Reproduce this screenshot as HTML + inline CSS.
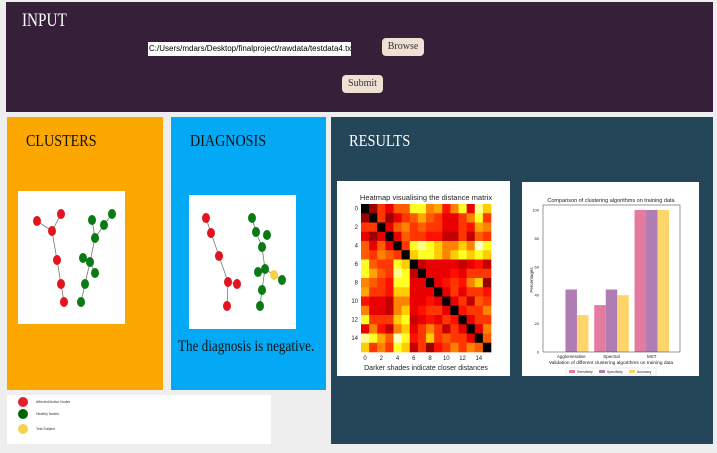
<!DOCTYPE html>
<html><head><meta charset="utf-8"><style>
body{margin:0;width:717px;height:453px;background:#eeeeee;position:relative;overflow:hidden;font-family:"Liberation Serif",serif}
.abs{position:absolute}
.title{color:#fff;font-size:17px;font-family:"Liberation Serif",serif;transform-origin:0 0;white-space:nowrap}
.btn{background:#efe0d4;border-radius:4px;font-size:10px;color:#333;text-align:center;font-family:"Liberation Serif",serif}
</style></head><body>
<div class="abs" style="left:6px;top:2px;width:707px;height:110px;background:#361f38"></div>
<div class="abs title" style="left:22px;top:10px;font-size:19px;transform:scaleX(0.8)">INPUT</div>
<div class="abs" style="left:148px;top:42px;width:202px;height:14px;background:#fff;font:8px 'Liberation Sans',sans-serif;line-height:14px;color:#000;padding-left:1px;white-space:nowrap;overflow:hidden">C:/Users/mdars/Desktop/finalproject/rawdata/testdata4.txt</div>
<div class="abs btn" style="left:382px;top:38px;width:42px;height:18px;line-height:18px">Browse</div>
<div class="abs btn" style="left:342px;top:75px;width:41px;height:18px;line-height:18px">Submit</div>

<div class="abs" style="left:7px;top:117px;width:156px;height:273px;background:#fca800"></div>
<div class="abs title" style="left:26px;top:131px;color:#111;transform:scaleX(0.83)">CLUSTERS</div>
<div class="abs" style="left:171px;top:117px;width:155px;height:273px;background:#03a9f4"></div>
<div class="abs title" style="left:190px;top:131px;color:#111;transform:scaleX(0.83)">DIAGNOSIS</div>
<div class="abs title" style="left:178px;top:338px;font-size:16px;color:#111;transform:scaleX(0.82)">The diagnosis is negative.</div>
<div class="abs" style="left:331px;top:117px;width:382px;height:327px;background:#254558"></div>
<div class="abs title" style="left:349px;top:131px;transform:scaleX(0.85)">RESULTS</div>
<div class="abs" style="left:7px;top:395px;width:264px;height:49px;background:#fff"></div>

<svg class="abs" style="left:0;top:0" width="717" height="453" id="svg">
<rect x="18" y="191" width="107" height="133" fill="#fff"/>
<rect x="189" y="195" width="107" height="134" fill="#fff"/>
<rect x="337" y="181" width="173" height="195" fill="#fff"/>
<rect x="522" y="182" width="177" height="194" fill="#fff"/>
<g id="graphs"></g>
<g id="heat"></g>
<g id="bars"></g>
<g font-family="Liberation Sans,sans-serif" font-size="3.5" fill="#333">
<circle cx="23" cy="402" r="5" fill="#e0202a"/><text x="36" y="403">Affected/Active Nodes</text>
<circle cx="23" cy="414" r="5" fill="#006400"/><text x="36" y="415">Healthy Nodes</text>
<circle cx="23" cy="429" r="5" fill="#f8d04a"/><text x="36" y="430">Test Subject</text>
</g>
</svg>
<script>
const NS='http://www.w3.org/2000/svg';
function mk(p,t,a){const e=document.createElementNS(NS,t);for(const k in a)e.setAttribute(k,a[k]);p.appendChild(e);return e;}
const g=document.getElementById('graphs');
const clusterRed=[[37,221],[61,214],[52,231],[57,260],[61,284],[64,302]];
const clusterRedEdges=[[0,2],[1,2],[2,3],[3,4],[4,5]];
const clusterGreen=[[92,220],[112,214],[104,225],[95,238],[83,258],[90,262],[95,273],[85,284],[81,302]];
const clusterGreenEdges=[[1,2],[2,3],[0,3],[3,5],[4,5],[5,6],[5,7],[7,8]];
const diagRed=[[206,218],[211,233],[219,256],[228,282],[237,284],[227,306]];
const diagRedEdges=[[0,1],[1,2],[2,3],[3,4],[3,5]];
const diagGreen=[[252,218],[256,232],[267,235],[262,247],[258,272],[265,269],[282,280],[262,290],[260,306],[274,275]];
const diagGreenEdges=[[0,1],[1,3],[3,5],[4,5],[5,9],[9,6],[5,7],[7,8]];
function graph(nodes,edges,col,name,special){
  edges.forEach(e=>{const l=mk(g,'line',{x1:nodes[e[0]][0],y1:nodes[e[0]][1],x2:nodes[e[1]][0],y2:nodes[e[1]][1],stroke:'#777','stroke-width':0.8});
  
  });
  nodes.forEach((n,i)=>{const c=mk(g,'ellipse',{cx:n[0],cy:n[1],rx:4,ry:5,fill:(special===i?'#f8d04a':col)});
  
  });
}
graph(clusterRed,clusterRedEdges,'#e3141e','cluster-red');
graph(clusterGreen,clusterGreenEdges,'#0a7a12','cluster-green');
graph(diagRed,diagRedEdges,'#e3141e','diag-red');
graph(diagGreen,diagGreenEdges,'#0a7a12','diag-green',9);

const heatUpper=[
[0,2,4,3,4.5,4.5,7,7,5,5.5,3.5,5,7,3,8,6],
[0,4,2,3,4,4.5,5.5,4.5,4,3,3,4,5,7,4],
[0,3,4.5,5,4,4.5,4,4,3,3,4,3.5,5.5,5],
[0,3,4.5,4,4,3.5,3.5,2.5,2.5,4,2.5,4.5,4],
[0,4,7,8,7,6,5,5,6,5,8.5,7],
[0,6,7,7,6,5,6,7,6,7,6],
[0,2.5,3,3,3,3,2.5,3,3.5,2.5],
[0,3,3,3,3.5,3,4,4,4],
[0,3,3.5,4,3.5,5,6,2],
[0,3,4,3,4,4,3.5],
[0,3,4,2.5,4.5,4],
[0,3.5,4,4,5],
[0,3,4,4],
[0,3,5],
[0,4.5],
[0]];
const heatTicks=['0','2','4','6','8','10','12','14'];
const N=16;
const M=[];for(let i=0;i<N;i++){M.push([]);for(let j=0;j<N;j++)M[i].push(0);}
for(let i=0;i<N;i++)for(let k=0;k<heatUpper[i].length;k++){const j=i+k;M[i][j]=heatUpper[i][k];M[j][i]=heatUpper[i][k];}
const hx0=361,hy0=204,hw=130,hh=148,cw=hw/N,ch=hh/N;
function hot(v){const t=v/9;const cl=x=>Math.max(0,Math.min(1,x));
return `rgb(${Math.round(255*cl(t/0.365))},${Math.round(255*cl((t-0.365)/0.375))},${Math.round(255*cl((t-0.74)/0.26))})`;}
const H=document.getElementById('heat');
for(let i=0;i<N;i++)for(let j=0;j<N;j++){const r=mk(H,'rect',{x:hx0+j*cw,y:hy0+i*ch,width:cw+0.3,height:ch+0.3,fill:hot(M[i][j])});

}
heatTicks.forEach(t=>{const v=+t;
const a=mk(H,'text',{x:hx0+(v+0.5)*cw,y:hy0+hh+8,'font-size':6,'text-anchor':'middle','font-family':'Liberation Sans,sans-serif',fill:'#222'});a.textContent=t;


const b=mk(H,'text',{x:hx0-3,y:hy0+(v+0.5)*ch+2,'font-size':6,'text-anchor':'end','font-family':'Liberation Sans,sans-serif',fill:'#222'});b.textContent=t;

});
let ht=mk(H,'text',{x:hx0+hw/2,y:200,'font-size':7.5,'text-anchor':'middle','font-family':'Liberation Sans,sans-serif',fill:'#222'});ht.textContent='Heatmap visualising the distance matrix';


let hl=mk(H,'text',{x:hx0+hw/2,y:370,'font-size':7,'text-anchor':'middle','font-family':'Liberation Sans,sans-serif',fill:'#222'});hl.textContent='Darker shades indicate closer distances';



const barCategories=['Agglomerative','Spectral','MST'];
const sensitivity=[0,33,100];
const specificity=[44,44,100];
const accuracy=[26,40,100];
const yTicks=[0,20,40,60,80,100];
const seriesNames=['Sensitivity','Specificity','Accuracy'];
const seriesColors=['#e47aa0','#b07cb4','#fdd56a'];
const ax0=543,ax1=680,ay0=352,ayTop=205,ymax=103.5;
const ys=v=>ay0-(v/ymax)*(ay0-ayTop);
const gw=(ax1-ax0)/3.4,bw=11.5;
const cx=i=>ax0+gw*0.7+i*gw;
const B=document.getElementById('bars');
[sensitivity,specificity,accuracy].forEach((s,k)=>s.forEach((v,i)=>{
 const r=mk(B,'rect',{x:cx(i)+(k-1.5)*bw,y:ys(v),width:bw,height:ay0-ys(v),fill:seriesColors[k]});
 
 }));
mk(B,'rect',{x:ax0,y:ayTop,width:ax1-ax0,height:ay0-ayTop,fill:'none',stroke:'#333','stroke-width':0.5});
yTicks.forEach(t=>{const a=mk(B,'text',{x:ax0-4,y:ys(t)+1.5,'font-size':4,'text-anchor':'end','font-family':'Liberation Sans,sans-serif',fill:'#222'});a.textContent=t;

});
barCategories.forEach((c,i)=>{const a=mk(B,'text',{x:cx(i),y:358,'font-size':4.5,'text-anchor':'middle','font-family':'Liberation Sans,sans-serif',fill:'#222'});a.textContent=c;

});
let bt=mk(B,'text',{x:611,y:202,'font-size':5.5,'text-anchor':'middle','font-family':'Liberation Sans,sans-serif',fill:'#222'});bt.textContent='Comparison of clustering algorithms on training data';


let bx=mk(B,'text',{x:611,y:364,'font-size':4.8,'text-anchor':'middle','font-family':'Liberation Sans,sans-serif',fill:'#222'});bx.textContent='Validation of different clustering algorithms on training data';


let by=mk(B,'text',{x:533,y:280,'font-size':4.5,'text-anchor':'middle','font-family':'Liberation Sans,sans-serif',fill:'#222',transform:'rotate(-90 533 280)'});by.textContent='Percentages';


mk(B,'rect',{x:566,y:368,width:90,height:7,fill:'#fff',stroke:'#ccc','stroke-width':0.4});
seriesNames.forEach((n,k)=>{const r=mk(B,'rect',{x:569+k*30,y:370,width:6,height:3,fill:seriesColors[k]});


const t=mk(B,'text',{x:577+k*30,y:373,'font-size':3.5,'font-family':'Liberation Sans,sans-serif',fill:'#222'});t.textContent=n;

});
</script>
</body></html>
